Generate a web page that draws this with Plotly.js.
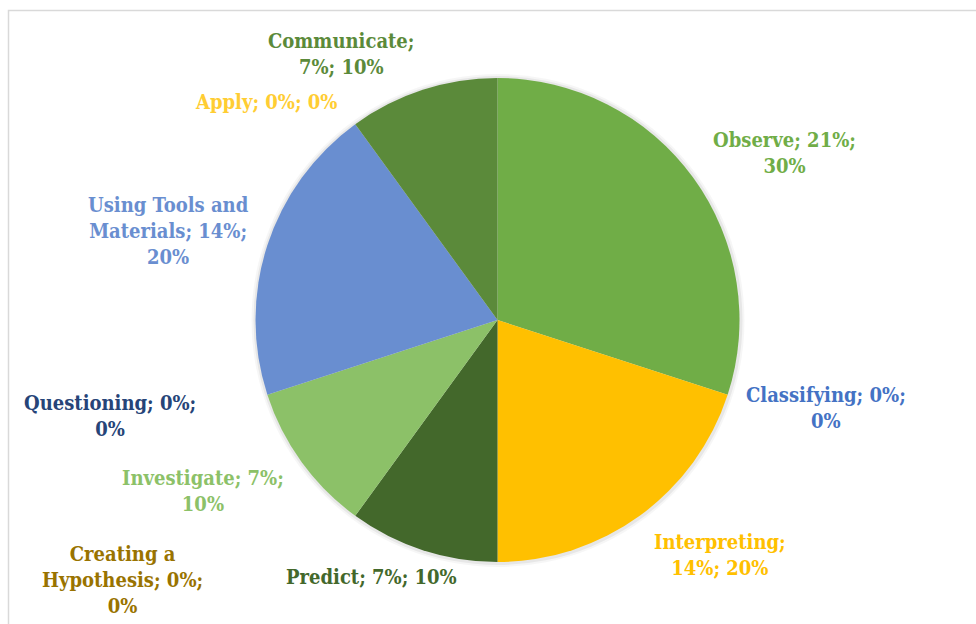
<!DOCTYPE html>
<html>
<head>
<meta charset="utf-8">
<script src="https://cdn.plot.ly/plotly-3.0.1.min.js"></script>
<style>
  html, body { margin: 0; padding: 0; background: #ffffff; overflow: hidden; }
  #chart { width: 976px; height: 624px; }
</style>
</head>
<body>
<div id="chart"></div>
<script>
// ---- data ----
const categories = ['Observe', 'Classifying', 'Interpreting', 'Predict', 'Creating a Hypothesis',
                    'Investigate', 'Questioning', 'Using Tools and Materials', 'Apply', 'Communicate'];
const sharePct = [21, 0, 14, 7, 0, 7, 0, 14, 0, 7];
const values   = [30, 0, 20, 10, 0, 10, 0, 20, 0, 10];
const colors   = ['#70AD47', '#4472C4', '#FFC000', '#43682B', '#997300',
                  '#8CC168', '#264478', '#698ED0', '#FFCD33', '#5B8A3A'];

// ---- layout helpers ----
const W = 976, H = 624;
const cx = 497.5, cy = 320, R = 242;
const px = x => x / W, py = y => 1 - y / H;

// words per line for each label (Excel-like wrapping)
const wrap = [[2,1],[2,1],[1,2],[3],[2,2,1],[2,1],[2,1],[3,2,1],[3],[1,2]];
// label centres in pixels
const labelPos = [[784,153],[826,408],[720,555],[371,577],[122,580],
                  [203,491],[110,416],[168,231],[266,102],[341,54]];

function buildLabel(i) {
  const words = (categories[i] + '; ' + sharePct[i] + '%; ' + values[i] + '%').split(' ');
  const lines = [];
  let k = 0;
  wrap[i].forEach(n => { lines.push(words.slice(k, k + n).join(' ')); k += n; });
  if (k < words.length) lines[lines.length - 1] += ' ' + words.slice(k).join(' ');
  return lines.join('<br>');
}

const FONT = '"DejaVu Serif Condensed", "DejaVu Serif", "Liberation Serif", serif';

const annotations = categories.map((c, i) => ({
  text: buildLabel(i),
  xref: 'paper', yref: 'paper',
  x: px(labelPos[i][0]), y: py(labelPos[i][1]),
  xanchor: 'center', yanchor: 'middle', align: 'center',
  showarrow: false,
  font: { family: FONT, size: 20, color: colors[i], weight: 'bold' }
}));

const shapes = [
  { type: 'circle', xref: 'paper', yref: 'paper', layer: 'below',
    x0: px(cx - R - 4), x1: px(cx + R + 5), y0: py(cy + R + 5), y1: py(cy - R - 4),
    fillcolor: 'rgba(0,0,0,0.035)', line: { width: 0 } },
  { type: 'circle', xref: 'paper', yref: 'paper', layer: 'below',
    x0: px(cx - R - 2), x1: px(cx + R + 3), y0: py(cy + R + 3), y1: py(cy - R - 2),
    fillcolor: 'rgba(0,0,0,0.06)', line: { width: 0 } },
  { type: 'rect', xref: 'paper', yref: 'paper', layer: 'above',
    x0: px(8.5), x1: 1.05, y0: -0.05, y1: py(10.5),
    fillcolor: 'rgba(0,0,0,0)', line: { color: '#D9D9D9', width: 1.5 } }
];

const trace = {
  type: 'pie',
  labels: categories,
  values: values,
  sort: false,
  direction: 'clockwise',
  rotation: 0,
  marker: { colors: colors, line: { width: 0 } },
  textinfo: 'none',
  hoverinfo: 'label+percent',
  showlegend: false,
  domain: { x: [px(cx - R), px(cx + R)], y: [py(cy + R), py(cy - R)] }
};

const layout = {
  width: W, height: H,
  margin: { l: 0, r: 0, t: 0, b: 0 },
  paper_bgcolor: '#ffffff',
  plot_bgcolor: '#ffffff',
  showlegend: false,
  annotations: annotations,
  shapes: shapes
};

Plotly.newPlot('chart', [trace], layout, { displayModeBar: false, staticPlot: true });
</script>
</body>
</html>
